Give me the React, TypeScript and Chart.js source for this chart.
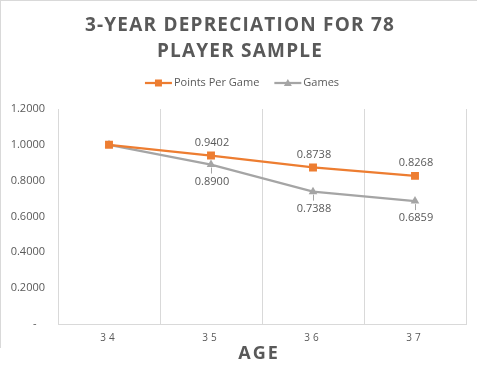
import React, { useEffect, useRef } from "react";
import { Chart, registerables } from "chart.js";

Chart.register(...registerables);

const titleLines = ["3-YEAR DEPRECIATION FOR 78", "PLAYER SAMPLE"];
const xAxisTitle = "AGE";
const ages = ["34", "35", "36", "37"];
const seriesNames = ["Points Per Game", "Games"];
const pointsPerGame = [1.0, 0.9402, 0.8738, 0.8268];
const games = [1.0, 0.89, 0.7388, 0.6859];
const showLabel = [false, true, true, true];
const yTicks = [0, 0.2, 0.4, 0.6, 0.8, 1.0, 1.2];

const ORANGE = "#ED7D31";
const GRAY = "#A5A5A5";
const TEXT = "#595959";
const GRID = "#D9D9D9";
const FONT = "'Open Sans', sans-serif";

const headerPlugin = {
  id: "header",
  afterDatasetsDraw(chart: any) {
    const ctx = chart.ctx;
    // data labels
    ctx.save();
    ctx.font = `11px ${FONT}`;
    ctx.fillStyle = TEXT;
    ctx.textAlign = "center";
    ctx.textBaseline = "middle";
    chart.data.datasets.forEach((ds: any, di: number) => {
      const meta = chart.getDatasetMeta(di);
      meta.data.forEach((pt: any, i: number) => {
        if (!showLabel[i]) return;
        const v = ds.data[i] as number;
        if (di === 0) {
          ctx.fillText(v.toFixed(4), pt.x + 1, pt.y - 13);
        } else {
          ctx.strokeStyle = GRAY;
          ctx.lineWidth = 1;
          ctx.beginPath();
          ctx.moveTo(pt.x + 0.5, pt.y + 3);
          ctx.lineTo(pt.x + 0.5, pt.y + 9);
          ctx.stroke();
          ctx.fillText(v.toFixed(4), pt.x + 1, pt.y + 17);
        }
      });
    });
    ctx.restore();
    // spacing for x tick labels drawn after this hook (ticks z = 1)
    (ctx as any).letterSpacing = "3px";
  },
  afterDraw(chart: any) {
    const ctx = chart.ctx;
    (ctx as any).letterSpacing = "0px";
    const cx = 239;
    ctx.save();
    // title
    ctx.fillStyle = TEXT;
    ctx.textAlign = "center";
    ctx.textBaseline = "middle";
    ctx.font = `bold 19px ${FONT}`;
    (ctx as any).letterSpacing = "1.2px";
    titleLines.forEach((t, i) => ctx.fillText(t, cx + 1, 26 + i * 26));
    // x-axis title
    ctx.font = `bold 18px ${FONT}`;
    (ctx as any).letterSpacing = "2px";
    const area = chart.chartArea;
    ctx.fillText(xAxisTitle, (area.left + area.right) / 2 - 3, 354);
    (ctx as any).letterSpacing = "0px";
    // legend
    ctx.font = `11px ${FONT}`;
    ctx.textAlign = "left";
    const lineW = 27;
    const gap = 2;
    const itemGap = 15;
    const items = chart.data.datasets.map((ds: any) => ({
      label: ds.label,
      color: ds.borderColor,
      style: ds.pointStyle,
      w: lineW + gap + ctx.measureText(ds.label).width,
    }));
    const total = items.reduce((s: number, it: any) => s + it.w, 0) + itemGap * (items.length - 1);
    let x = 242 - total / 2;
    const y = 83;
    items.forEach((it: any) => {
      ctx.strokeStyle = it.color;
      ctx.fillStyle = it.color;
      ctx.lineWidth = 2.25;
      ctx.beginPath();
      ctx.moveTo(x, y);
      ctx.lineTo(x + lineW, y);
      ctx.stroke();
      const mx = x + lineW / 2;
      ctx.beginPath();
      if (it.style === "rect") {
        ctx.rect(mx - 3.5, y - 3.5, 7, 7);
      } else {
        ctx.moveTo(mx, y - 4);
        ctx.lineTo(mx + 4, y + 3);
        ctx.lineTo(mx - 4, y + 3);
        ctx.closePath();
      }
      ctx.fill();
      ctx.fillStyle = TEXT;
      ctx.fillText(it.label, x + lineW + gap, y);
      x += it.w + itemGap;
    });
    ctx.restore();
  },
};

function App() {
  const ref = useRef<HTMLCanvasElement | null>(null);
  useEffect(() => {
    document.body.style.margin = "0";
    const canvas = ref.current!;
    const chart = new Chart(canvas, {
      type: "line",
      data: {
        labels: ages,
        datasets: [
          {
            label: seriesNames[0],
            data: pointsPerGame,
            borderColor: ORANGE,
            backgroundColor: ORANGE,
            borderWidth: 2.25,
            pointStyle: "rect",
            pointRadius: 5.6,
            pointBorderWidth: 0,
            tension: 0,
          },
          {
            label: seriesNames[1],
            data: games,
            borderColor: GRAY,
            backgroundColor: GRAY,
            borderWidth: 2.25,
            pointStyle: "triangle",
            pointRadius: 5,
            pointBorderWidth: 0,
            tension: 0,
          },
        ],
      },
      options: {
        animation: false,
        responsive: false,
        devicePixelRatio: 1,
        layout: { padding: { top: 109, right: 11, left: 0, bottom: 0 } },
        plugins: {
          legend: { display: false },
          title: { display: false },
          tooltip: { enabled: false },
        },
        scales: {
          x: {
            offset: true,
            grid: { display: true, offset: true, color: GRID, lineWidth: 1, drawTicks: false },
            border: { display: true, color: GRID, width: 1 },
            ticks: { color: TEXT, font: { family: FONT, size: 10 }, padding: 8, z: 1, maxRotation: 0 },
            afterFit: (s: any) => {
              s.height = 48;
            },
          },
          y: {
            min: 0,
            max: 1.2,
            afterBuildTicks: (s: any) => {
              s.ticks = yTicks.map((v) => ({ value: v }));
            },
            grid: { display: false, drawTicks: false },
            border: { display: false },
            ticks: {
              color: TEXT,
              font: { family: FONT, size: 11 },
              padding: 13,
              callback: (v: any) => (Number(v) === 0 ? "-   " : Number(v).toFixed(4)),
            },
            afterFit: (s: any) => {
              s.width = 58;
            },
          },
        },
      },
      plugins: [headerPlugin],
    });
    return () => chart.destroy();
  }, []);
  return (
    <div style={{ position: "relative", width: 477, height: 372, background: "#fff" }}>
      <canvas ref={ref} width={477} height={372} style={{ display: "block" }} />
      <div
        style={{
          position: "absolute",
          left: 0,
          top: 0,
          width: 477,
          height: 348,
          boxSizing: "border-box",
          borderTop: `1px solid ${GRID}`,
          borderLeft: `1px solid ${GRID}`,
          pointerEvents: "none",
        }}
      />
    </div>
  );
}

export default App;
